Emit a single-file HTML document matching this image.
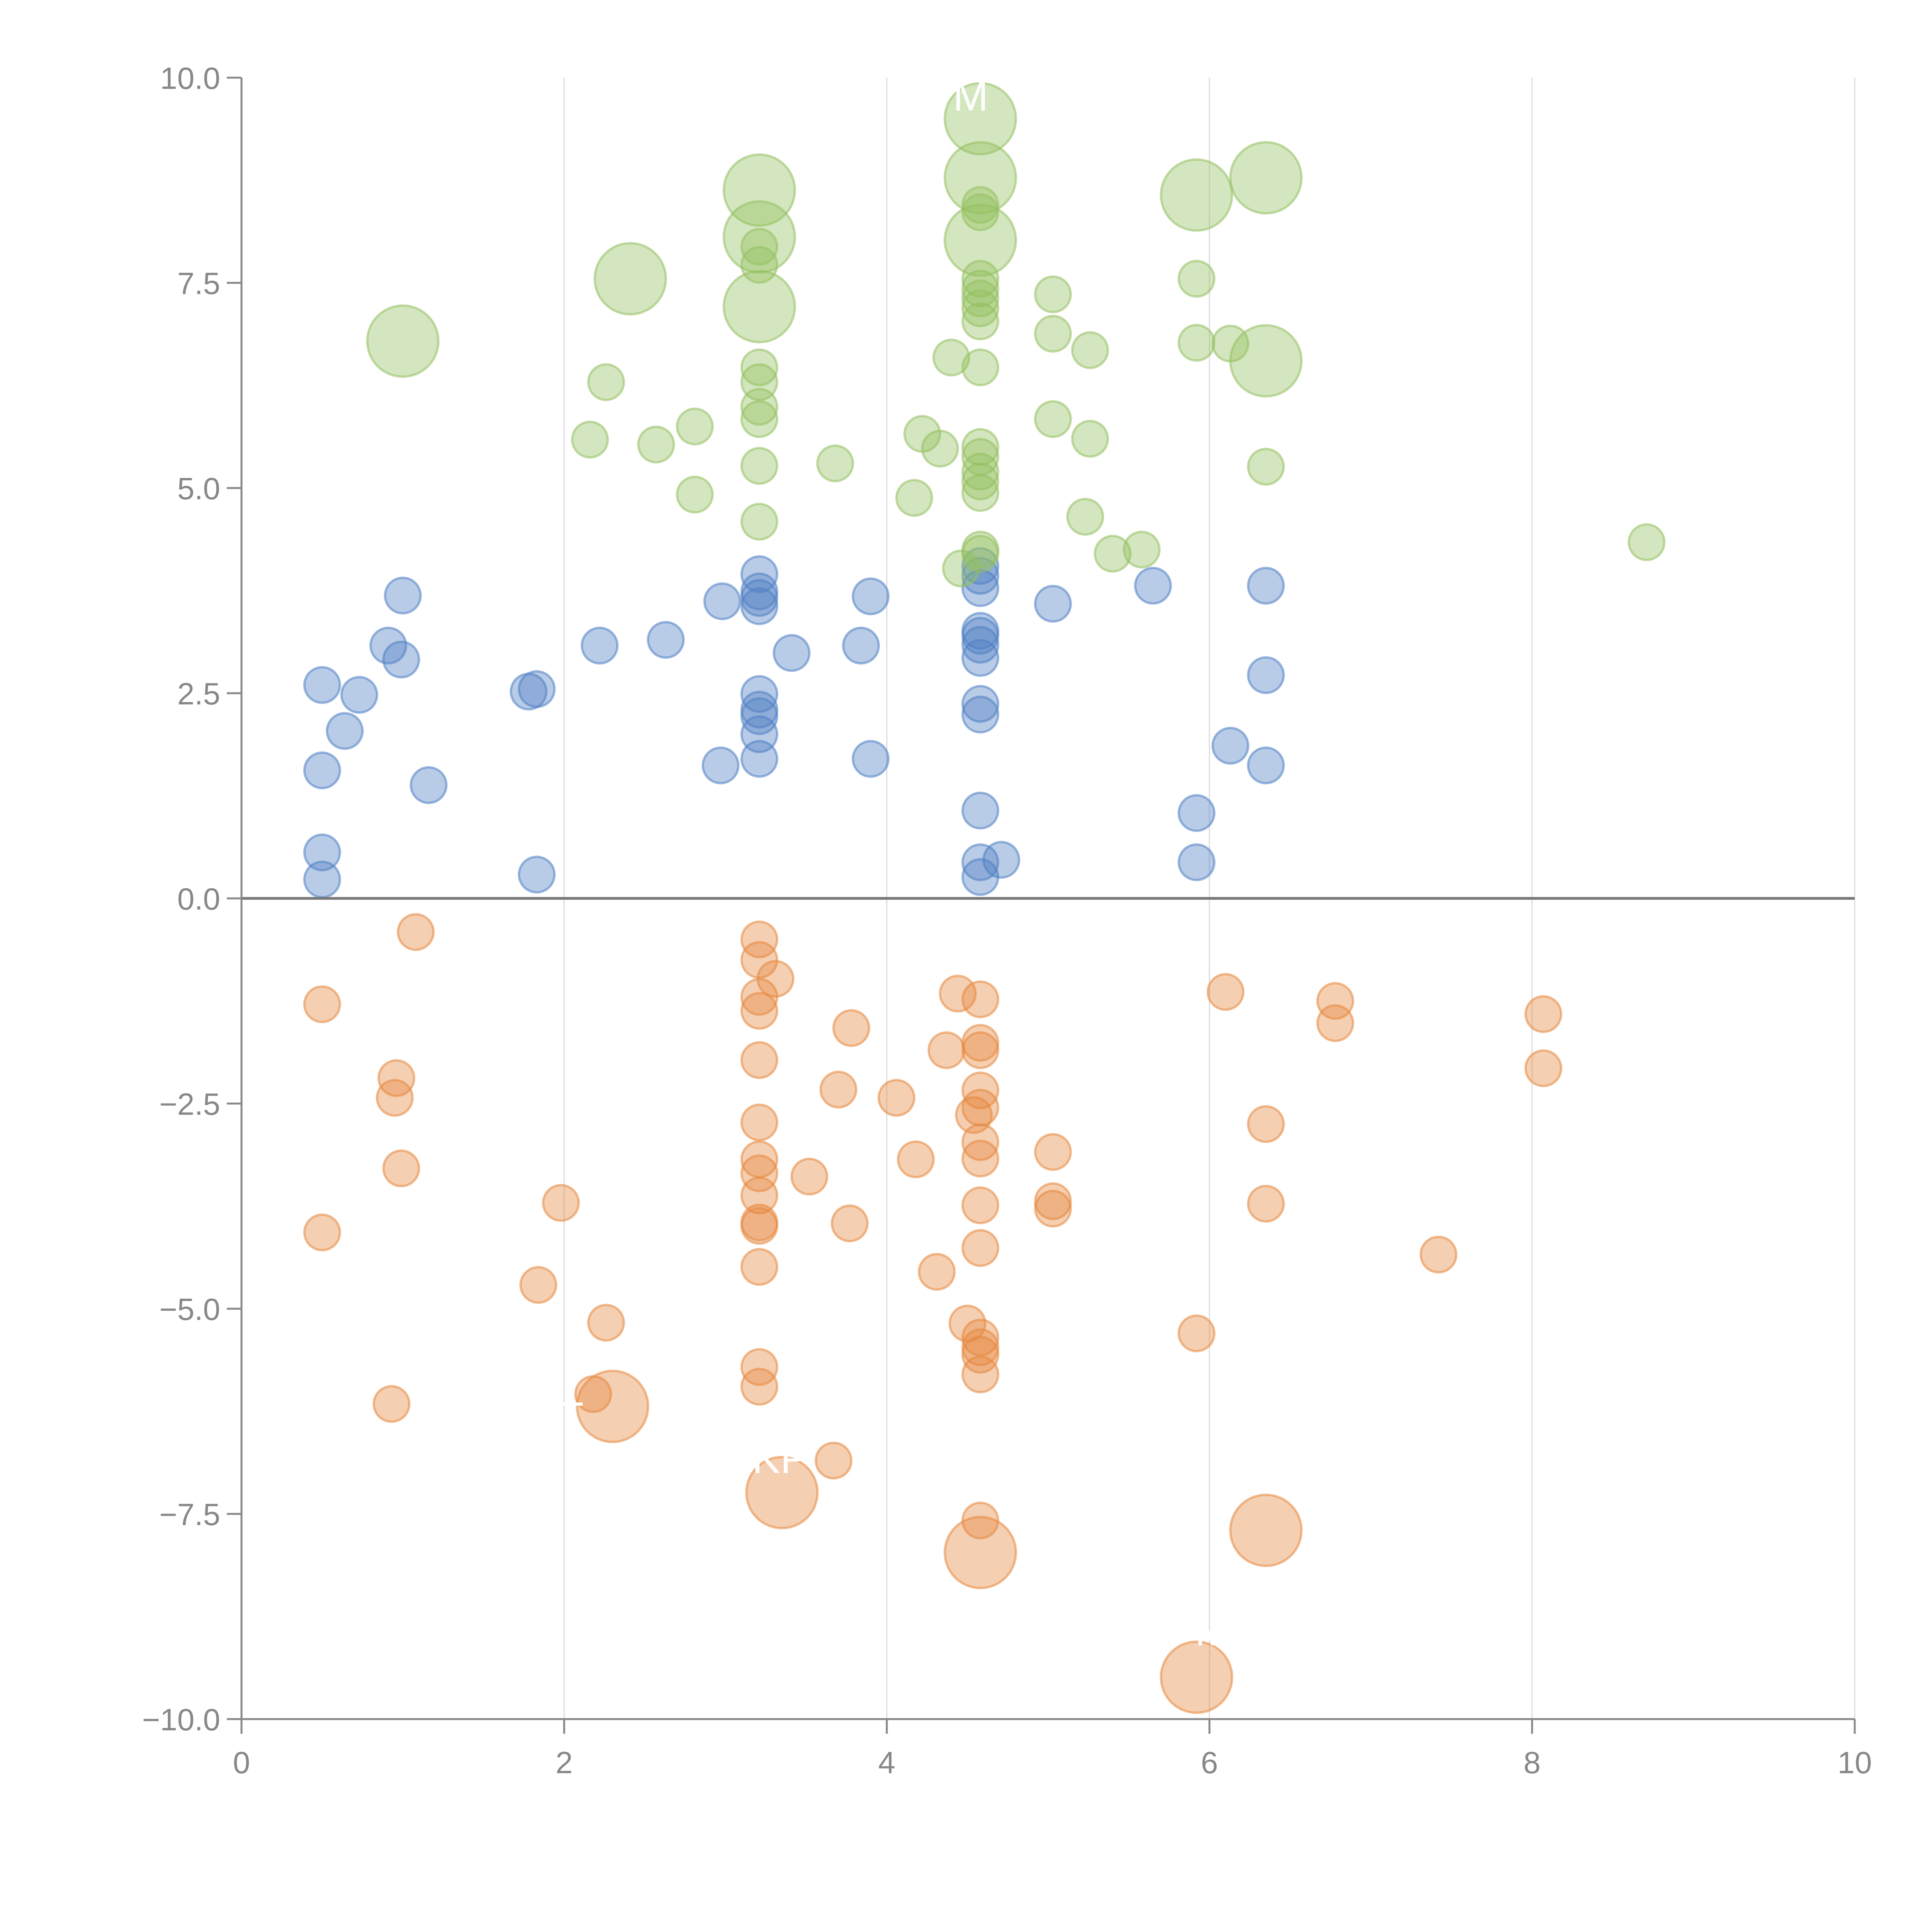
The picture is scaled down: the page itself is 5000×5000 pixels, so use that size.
<!DOCTYPE html>
<html><head><meta charset="utf-8"><style>
html,body{margin:0;padding:0;background:#fff;width:5000px;height:5000px;overflow:hidden}
svg{display:block;font-family:"Liberation Sans",Arial,sans-serif}
</style></head><body>
<svg id="chart" width="5000" height="5000" viewBox="0 0 5000 5000" xmlns="http://www.w3.org/2000/svg">
<g id="grid"></g>
<g id="marks"></g>
<g id="labels"></g>
<g id="axes"></g>
</svg>
<script>
const xTicks = [0, 2, 4, 6, 8, 10];
const yTicks = [-10, -7.5, -5, -2.5, 0, 2.5, 5, 7.5, 10];
const yTickLabels = ["\u221210.0","\u22127.5","\u22125.0","\u22122.5","0.0","2.5","5.0","7.5","10.0"];

const blueX = [0.5,0.5,0.5,0.5,0.64,0.73,0.91,0.99,1.0,1.16,1.78,1.83,1.83,2.22,2.63,2.97,2.98,3.21,3.21,3.21,3.21,3.21,3.21,3.21,3.21,3.21,3.41,3.84,3.9,3.9,4.58,4.58,4.58,4.58,4.58,4.58,4.58,4.58,4.58,4.58,4.58,4.58,4.71,5.03,5.65,5.92,5.92,6.13,6.35,6.35,6.35];
const blueY = [2.6,1.56,0.56,0.23,2.04,2.48,3.08,2.91,3.69,1.38,2.52,2.55,0.29,3.08,3.15,1.62,3.62,3.95,3.74,3.66,3.56,2.49,2.3,2.22,2.0,1.7,2.99,3.08,1.7,3.68,4.05,3.93,3.78,3.26,3.2,3.09,2.93,2.37,2.24,1.07,0.44,0.26,0.47,3.59,3.81,1.04,0.44,1.86,3.81,2.72,1.62];
const blueSize = blueX.map(() => 1);

const greenX = [1.0,2.41,2.26,2.16,2.57,2.81,2.81,3.21,3.21,3.21,3.21,3.21,3.21,3.21,3.21,3.21,3.21,3.21,3.68,4.17,4.22,4.33,4.4,4.46,4.58,4.58,4.58,4.58,4.58,4.58,4.58,4.58,4.58,4.58,4.58,4.58,4.58,4.58,4.58,4.58,4.58,4.58,5.03,5.03,5.03,5.26,5.26,5.23,5.4,5.58,5.92,5.92,5.92,6.13,6.35,6.35,6.35,8.71];
const greenY = [6.79,7.55,6.29,5.59,5.53,5.75,4.92,8.63,8.06,7.21,7.94,7.72,6.47,6.29,5.99,5.84,5.27,4.59,5.3,4.88,5.66,5.48,6.59,4.02,9.5,8.78,8.02,8.45,8.36,7.55,7.43,7.31,7.19,7.03,6.47,5.5,5.38,5.2,5.08,4.94,4.25,4.2,7.36,6.88,5.84,6.68,5.6,4.65,4.2,4.25,8.57,7.55,6.77,6.76,8.78,6.55,5.26,4.34];
const greenSize = [4,4,1,1,1,1,1,4,4,4,1,1,1,1,1,1,1,1,1,1,1,1,1,1,4,4,4,1,1,1,1,1,1,1,1,1,1,1,1,1,1,1,1,1,1,1,1,1,1,1,4,1,1,1,4,4,1,1];

const orangeX = [1.08,0.5,0.96,0.95,0.99,0.5,0.93,1.98,1.84,2.26,2.18,2.3,3.21,3.21,3.31,3.21,3.21,3.21,3.21,3.21,3.21,3.21,3.21,3.21,3.21,3.21,3.21,3.35,3.52,3.67,3.7,3.77,3.78,4.06,4.18,4.31,4.37,4.44,4.5,4.58,4.58,4.58,4.58,4.58,4.54,4.58,4.58,4.58,4.58,4.58,4.58,4.58,4.58,4.58,4.58,5.03,5.03,5.03,5.92,5.92,6.1,6.35,6.35,6.35,6.78,6.78,7.42,8.07,8.07];
const orangeY = [-0.41,-1.29,-2.19,-2.43,-3.29,-4.07,-6.16,-3.71,-4.71,-5.17,-6.04,-6.19,-0.5,-0.75,-0.98,-1.2,-1.37,-1.97,-2.73,-3.18,-3.35,-3.62,-3.95,-3.99,-4.49,-5.71,-5.95,-7.24,-3.39,-6.85,-2.33,-3.96,-1.58,-2.43,-3.18,-4.55,-1.85,-1.16,-5.18,-1.23,-1.76,-1.85,-2.34,-2.55,-2.64,-2.97,-3.17,-3.74,-4.26,-5.35,-5.47,-5.56,-5.8,-7.58,-7.97,-3.09,-3.69,-3.78,-5.3,-9.49,-1.14,-2.75,-3.72,-7.7,-1.25,-1.52,-4.34,-1.41,-2.07];
const orangeSize = [1,1,1,1,1,1,1,1,1,1,1,4,1,1,1,1,1,1,1,1,1,1,1,1,1,1,1,4,1,1,1,1,1,1,1,1,1,1,1,1,1,1,1,1,1,1,1,1,1,1,1,1,1,1,4,1,1,1,1,4,1,1,1,4,1,1,1,1,1];

const labelText = ["M","KP","T","S","M"];
const labelX = [4.52,3.34,2.04,6.58,6.02];
const labelY = [9.6,-7.0,-6.5,-7.4,-9.1];

const NS = "http://www.w3.org/2000/svg";
const L = 625, R = 4800, T = 201, B = 4449;
const sx = v => L + (v - 0) / 10 * (R - L);
const sy = v => B - (v + 10) / 20 * (B - T);
const rBase = 46;

function mk(tag, attrs, parent) {
  const e = document.createElementNS(NS, tag);
  for (const k in attrs) e.setAttribute(k, attrs[k]);
  parent.appendChild(e);
  return e;
}
const grid = document.getElementById('grid');
const marks = document.getElementById('marks');
const labels = document.getElementById('labels');
const axes = document.getElementById('axes');

xTicks.forEach(t => {
  if (t === 0) return;
  const g = mk('line', {x1: sx(t), x2: sx(t), y1: T, y2: B, stroke: '#dcdcdc', 'stroke-width': 3}, grid);
  
  
});

function drawSeries(xs, ys, ss, fill, stroke, name) {
  xs.forEach((x, i) => {
    const c = mk('circle', {cx: sx(x), cy: sy(ys[i]), r: rBase * Math.sqrt(ss[i]), fill: fill, 'fill-opacity': 0.4, stroke: stroke, 'stroke-opacity': 0.55, 'stroke-width': 6}, marks);
    
    
  });
}
drawSeries(blueX, blueY, blueSize, '#4f7fc4', '#4f7fc4', 'blue-bubble');
drawSeries(greenX, greenY, greenSize, '#94c060', '#94c060', 'green-bubble');
drawSeries(orangeX, orangeY, orangeSize, '#e6883e', '#e6883e', 'orange-bubble');

labelText.forEach((s, i) => {
  const t = mk('text', {x: sx(labelX[i]), y: sy(labelY[i]), fill: '#fff', 'font-size': 110, 'text-anchor': 'middle'}, labels);
  t.textContent = s;
  
  
});

// zero line
const z = mk('line', {x1: L, x2: R, y1: sy(0), y2: sy(0), stroke: '#777', 'stroke-width': 7}, axes);


const ya = mk('line', {x1: L, x2: L, y1: T, y2: B, stroke: '#888', 'stroke-width': 5}, axes);


const xa = mk('line', {x1: L, x2: R, y1: B, y2: B, stroke: '#888', 'stroke-width': 5}, axes);



yTicks.forEach((t, i) => {
  const tk = mk('line', {x1: L - 38, x2: L, y1: sy(t), y2: sy(t), stroke: '#888', 'stroke-width': 5}, axes);
  
  
  const tx = mk('text', {x: L - 55, y: sy(t) + 29, fill: '#888', 'font-size': 80, 'text-anchor': 'end'}, axes);
  tx.textContent = yTickLabels[i];
  
  
});
xTicks.forEach(t => {
  const tk = mk('line', {x1: sx(t), x2: sx(t), y1: B, y2: B + 38, stroke: '#888', 'stroke-width': 5}, axes);
  
  
  const tx = mk('text', {x: sx(t), y: B + 140, fill: '#888', 'font-size': 80, 'text-anchor': 'middle'}, axes);
  tx.textContent = String(t);
  
  
});
</script>
</body></html>
